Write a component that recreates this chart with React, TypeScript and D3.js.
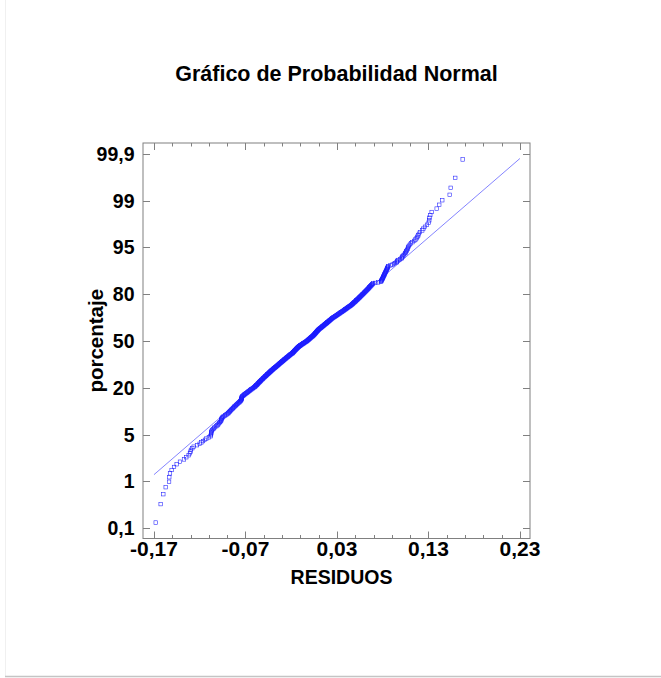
import React from "react";
import * as d3 from "d3";

// Residuals (sorted)
const residuals: number[] = [
  -0.1681, -0.1627, -0.1598, -0.1572, -0.1535, -0.1533, -0.1525, -0.1507, -0.1481, -0.1452,
  -0.1416, -0.1372, -0.1347, -0.1321, -0.1307, -0.1300, -0.1296, -0.1281, -0.1266, -0.1230,
  -0.1201, -0.1182, -0.1164, -0.1143, -0.1128, -0.1100, -0.1082, -0.1078, -0.1076, -0.1074,
  -0.1072, -0.1070, -0.1062, -0.1052, -0.1043, -0.1036, -0.1020, -0.1008, -0.0999, -0.0990,
  -0.0985, -0.0978, -0.0968,
  -0.0966, -0.0963, -0.0961, -0.0958,
  -0.0950, -0.0942, -0.0929, -0.0921, -0.0908, -0.0897, -0.0888,
  -0.0883, -0.0875, -0.0869, -0.0862, -0.0856, -0.0849, -0.0842, -0.0836, -0.0829, -0.0822,
  -0.0817, -0.0809, -0.0803, -0.0796, -0.0790, -0.0782, -0.0775, -0.0768, -0.0761,
  -0.0757, -0.0752, -0.0748, -0.0746, -0.0744, -0.0743, -0.0742, -0.0741, -0.0740, -0.0737,
  -0.0731, -0.0723, -0.0717, -0.0711, -0.0703, -0.0698, -0.0690, -0.0682, -0.0677, -0.0669,
  -0.0663, -0.0656, -0.0649, -0.0644, -0.0636, -0.0629, -0.0623, -0.0617, -0.0609, -0.0603, -0.0596,
  -0.0591, -0.0587, -0.0582, -0.0579, -0.0573, -0.0568, -0.0565, -0.0560, -0.0554, -0.0551,
  -0.0546, -0.0543, -0.0537, -0.0532, -0.0529, -0.0524, -0.0520, -0.0514, -0.0511, -0.0506,
  -0.0501, -0.0498, -0.0492, -0.0488, -0.0484, -0.0478, -0.0475, -0.0470, -0.0465, -0.0462,
  -0.0456, -0.0452, -0.0448, -0.0442, -0.0439, -0.0434, -0.0429, -0.0426, -0.0420, -0.0416,
  -0.0412, -0.0406, -0.0403, -0.0398, -0.0393, -0.0389, -0.0383, -0.0378,
  -0.0374, -0.0369, -0.0365, -0.0360, -0.0356, -0.0350, -0.0347, -0.0342, -0.0338, -0.0333,
  -0.0328, -0.0324, -0.0320, -0.0315, -0.0310, -0.0306, -0.0302, -0.0296, -0.0292, -0.0288,
  -0.0283, -0.0279, -0.0274, -0.0270, -0.0265, -0.0261, -0.0256, -0.0252, -0.0247, -0.0242,
  -0.0238, -0.0234, -0.0229, -0.0225, -0.0220, -0.0215, -0.0212, -0.0206, -0.0202, -0.0197,
  -0.0190,
  -0.0186, -0.0183, -0.0180, -0.0176, -0.0172, -0.0169, -0.0166, -0.0162, -0.0159, -0.0155,
  -0.0152, -0.0148, -0.0145, -0.0141, -0.0138, -0.0134, -0.0131, -0.0127, -0.0124, -0.0120,
  -0.0115, -0.0110, -0.0104, -0.0099, -0.0094, -0.0088, -0.0083, -0.0078, -0.0072, -0.0067,
  -0.0062, -0.0057, -0.0051, -0.0046, -0.0041, -0.0035, -0.0030,
  -0.0026, -0.0022, -0.0017, -0.0013, -0.0009, -0.0005, 0.0000, 0.0004, 0.0008, 0.0012,
  0.0016, 0.0020, 0.0025, 0.0029, 0.0033, 0.0037, 0.0041, 0.0045,
  0.0048, 0.0051, 0.0055, 0.0058, 0.0061, 0.0064, 0.0068, 0.0071, 0.0074, 0.0077,
  0.0080, 0.0084, 0.0087, 0.0090, 0.0093, 0.0097, 0.0100,
  0.0104, 0.0109, 0.0113, 0.0118, 0.0123, 0.0127, 0.0132, 0.0136, 0.0141, 0.0145,
  0.0150, 0.0154, 0.0159, 0.0164, 0.0168, 0.0173, 0.0177, 0.0182, 0.0186, 0.0191,
  0.0195, 0.0200, 0.0204, 0.0209, 0.0214, 0.0218, 0.0223, 0.0227, 0.0232, 0.0236,
  0.0241, 0.0245, 0.0250,
  0.0256, 0.0261, 0.0267, 0.0273, 0.0279, 0.0285, 0.0291, 0.0297, 0.0302, 0.0308,
  0.0314, 0.0320, 0.0326, 0.0332, 0.0338, 0.0343, 0.0349, 0.0355, 0.0361, 0.0367,
  0.0373, 0.0378, 0.0384, 0.0390, 0.0396, 0.0402, 0.0408, 0.0413, 0.0419, 0.0425,
  0.0431, 0.0437, 0.0443, 0.0448, 0.0454, 0.0460,
  0.0465, 0.0470, 0.0474, 0.0479, 0.0484, 0.0489, 0.0494, 0.0499, 0.0503, 0.0508,
  0.0513, 0.0518, 0.0523, 0.0527, 0.0532, 0.0537, 0.0542, 0.0547, 0.0551, 0.0556,
  0.0561, 0.0566, 0.0571, 0.0576, 0.0580, 0.0585, 0.0590,
  0.0595, 0.0600, 0.0605, 0.0610, 0.0615, 0.0620, 0.0625, 0.0630, 0.0635, 0.0640,
  0.0645, 0.0650, 0.0655, 0.0660, 0.0665, 0.0670, 0.0675, 0.0680, 0.0685, 0.0690,
  0.0695,
  0.0720, 0.0750, 0.0780,
  0.0783, 0.0786, 0.0789, 0.0792, 0.0795, 0.0798, 0.0801, 0.0804, 0.0807, 0.0810,
  0.0813, 0.0816, 0.0819, 0.0822, 0.0825,
  0.0828, 0.0832, 0.0835, 0.0838, 0.0842, 0.0845, 0.0848, 0.0851, 0.0855, 0.0858,
  0.0861, 0.0885, 0.0907, 0.0923, 0.0934, 0.0952, 0.0956, 0.0961, 0.0972, 0.0989,
  0.1007, 0.1010, 0.1016, 0.1025, 0.1032, 0.1043, 0.1048, 0.1054, 0.1059, 0.1065,
  0.1073, 0.1076, 0.1081, 0.1087, 0.1098, 0.1109, 0.1125, 0.1145, 0.1158, 0.1171,
  0.1180, 0.1189, 0.1196, 0.1207, 0.1232, 0.1245, 0.1262, 0.1284, 0.1302, 0.1309,
  0.1311, 0.1320, 0.1335, 0.1390, 0.1418, 0.1451, 0.1532, 0.1543, 0.1593, 0.1674,
];

const xTickValues: number[] = [-0.17, -0.07, 0.03, 0.13, 0.23];
const xTickLabels: string[] = ["-0,17", "-0,07", "0,03", "0,13", "0,23"];
const xMinorStep = 0.02;
const yTickLabels: string[] = ["0,1", "1", "5", "20", "50", "80", "95", "99", "99,9"];
const yExtremeProb = 0.001; // outermost labelled probability
// fitted normal reference line (mean, standard deviation)
const fitMean = -0.0009;
const fitSd = 0.0766;

const title = "Gráfico de Probabilidad Normal";
const xTitle = "RESIDUOS";
const yTitle = "porcentaje";

// inverse standard normal CDF (Acklam)
function probit(p: number): number {
  const a = [-3.969683028665376e1, 2.209460984245205e2, -2.759285104469687e2, 1.38357751867269e2, -3.066479806614716e1, 2.506628277459239];
  const b = [-5.447609879822406e1, 1.615858368580409e2, -1.556989798598866e2, 6.680131188771972e1, -1.328068155288572e1];
  const c = [-7.784894002430293e-3, -3.223964580411365e-1, -2.400758277161838, -2.549671010050765, 4.374664141464968, 2.938163982698783];
  const d = [7.784695709041462e-3, 3.224671290700398e-1, 2.445134137142996, 3.754408661907416];
  const pl = 0.02425;
  if (p < pl) {
    const q = Math.sqrt(-2 * Math.log(p));
    return (((((c[0] * q + c[1]) * q + c[2]) * q + c[3]) * q + c[4]) * q + c[5]) / ((((d[0] * q + d[1]) * q + d[2]) * q + d[3]) * q + 1);
  }
  if (p > 1 - pl) {
    const q = Math.sqrt(-2 * Math.log(1 - p));
    return -(((((c[0] * q + c[1]) * q + c[2]) * q + c[3]) * q + c[4]) * q + c[5]) / ((((d[0] * q + d[1]) * q + d[2]) * q + d[3]) * q + 1);
  }
  const q = p - 0.5;
  const r = q * q;
  return ((((((a[0] * r + a[1]) * r + a[2]) * r + a[3]) * r + a[4]) * r + a[5]) * q) / (((((b[0] * r + b[1]) * r + b[2]) * r + b[3]) * r + b[4]) * r + 1);
}

export default function App() {
  const W = 661;
  const H = 678;
  const left = 143, right = 530, top = 143, bottom = 538.5;

  const x = d3.scaleLinear().domain([-0.182, 0.241]).range([left, right]);
  const y = d3.scaleLinear().domain([-3.27, 3.27]).range([539, top]);

  const sorted = [...residuals].sort(d3.ascending);
  const n = sorted.length;
  const pts = sorted.map((v, i) => ({ v, z: probit((i + 1 - 0.375) / (n + 0.25)) }));

  const zExt = -probit(yExtremeProb);
  const yTicks = yTickLabels.map((lab, i) => ({
    lab,
    z: -zExt + (i * 2 * zExt) / (yTickLabels.length - 1),
  }));

  const minorTicks = d3
    .range(Math.round((xTickValues[xTickValues.length - 1] - xTickValues[0]) / xMinorStep) + 1)
    .map((k) => xTickValues[0] + k * xMinorStep);

  const lineX0 = xTickValues[0];
  const lineX1 = xTickValues[xTickValues.length - 1];
  const lineData: [number, number][] = [
    [lineX0, (lineX0 - fitMean) / fitSd],
    [lineX1, (lineX1 - fitMean) / fitSd],
  ];
  const linePath = d3
    .line<[number, number]>()
    .x((d) => x(d[0]))
    .y((d) => y(d[1]))(lineData);

  const font = "'Liberation Sans', Arial, Helvetica, sans-serif";
  const axisColor = "#808080";
  const cx = (left + right) / 2;

  return (
    <svg width={W} height={H} style={{ position: "absolute", left: 0, top: 0 }} fontFamily={font}>
      <rect x={0} y={0} width={W} height={H} fill="#ffffff" />
      <line x1={5.5} y1={0} x2={5.5} y2={676} stroke="#f0f0f0" strokeWidth={1} />
      <line x1={5} y1={676.5} x2={W} y2={676.5} stroke="#c4c4c4" strokeWidth={1.5} />

      <text x={cx} y={81} textAnchor="middle" fontSize={21.5} fontWeight="bold" fill="#000">
        {title}
      </text>

      {/* frame */}
      <rect x={left} y={top} width={right - left} height={bottom - top} fill="none" stroke={axisColor} strokeWidth={1} />

      {/* x ticks */}
      {minorTicks.map((t, i) => {
        const isMajor = i % 5 === 0;
        const len = isMajor ? 7 : 3.5;
        const px = Math.round(x(t)) + 0.5;
        return (
          <g key={"xt" + i}>
            <line x1={px} x2={px} y1={bottom} y2={bottom - len} stroke={axisColor} />
            <line x1={px} x2={px} y1={top} y2={top + len} stroke={axisColor} />
          </g>
        );
      })}
      {xTickValues.map((t, i) => (
        <text key={"xl" + i} x={x(t)} y={555.5} textAnchor="middle" fontSize={21} fontWeight="bold" fill="#000">
          {xTickLabels[i]}
        </text>
      ))}

      {/* y ticks */}
      {yTicks.map((t, i) => {
        const py = Math.round(y(t.z)) + 0.5;
        return (
          <g key={"yt" + i}>
            <line x1={left} x2={left + 7} y1={py} y2={py} stroke={axisColor} />
            <line x1={right} x2={right - 7} y1={py} y2={py} stroke={axisColor} />
            <text x={134.5} y={y(t.z)} dy="0.36em" textAnchor="end" fontSize={19.5} fontWeight="bold" fill="#000">
              {t.lab}
            </text>
          </g>
        );
      })}

      <text x={cx + 5} y={584} textAnchor="middle" fontSize={19.5} fontWeight="bold" fill="#000">
        {xTitle}
      </text>
      <text
        transform={`translate(103, ${(top + bottom) / 2}) rotate(-90)`}
        textAnchor="middle"
        fontSize={20.5}
        fontWeight="bold"
        fill="#000"
      >
        {yTitle}
      </text>

      {/* fitted line */}
      <path d={linePath ?? ""} fill="none" stroke="#3030ff" strokeWidth={0.6} />

      {/* points */}
      {pts.map((p, i) => (
        <rect
          key={"p" + i}
          x={x(p.v) - 1.75}
          y={y(p.z) - 1.75}
          width={3.5}
          height={3.5}
          fill="none"
          stroke="#1a1aff"
          strokeWidth={0.55}
        />
      ))}
    </svg>
  );
}
